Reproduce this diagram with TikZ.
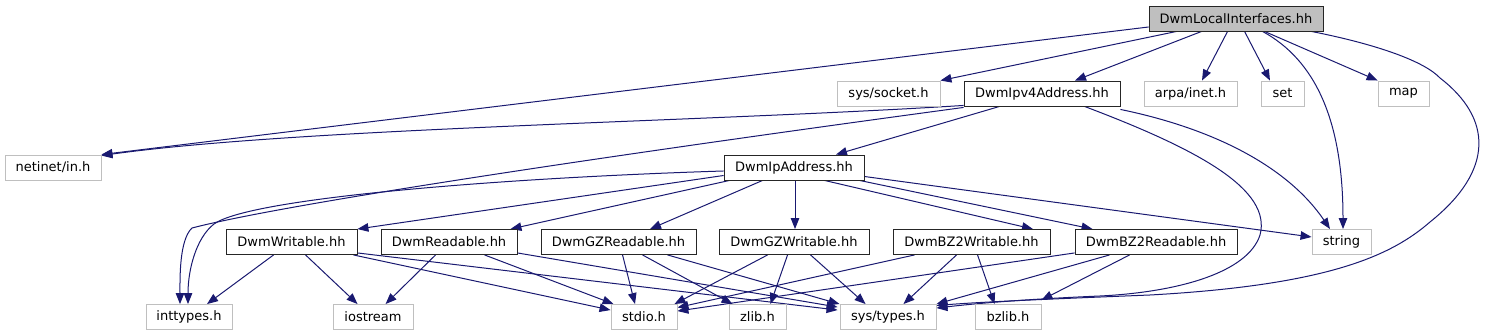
\documentclass[tikz,border=0pt]{standalone}
\usepackage{fontspec}
\setmainfont{DejaVu Sans}
\usetikzlibrary{arrows.meta,calc,backgrounds}
\definecolor{edgeblue}{HTML}{191970}
\definecolor{extgray}{HTML}{BFBFBF}
\tikzset{
  hbox/.style={draw=black!85, line width=0.9pt, fill=white, rectangle, inner sep=0pt, minimum height=25pt, font=\fontsize{13}{15}\selectfont},
  extbox/.style={draw=extgray, line width=0.9pt, fill=white, rectangle, inner sep=0pt, minimum height=25pt, font=\fontsize{13}{15}\selectfont},
  rootbox/.style={hbox, fill=extgray},
  dep/.style={draw=edgeblue, line width=1pt, -{Triangle[length=11pt,width=8.5pt,fill=edgeblue]}}
}
\begin{document}
\begin{tikzpicture}[x=1pt,y=-1pt]
\useasboundingbox (0,0) rectangle (1489,336);
% nodes
\node[rootbox, minimum width=174pt] (LI) at (1236,18.5) {DwmLocalInterfaces.hh};
\node[extbox, minimum width=103pt] (socket) at (888.5,93.5) {sys/socket.h};
\node[hbox, minimum width=156pt] (Ipv4) at (1042,93.5) {DwmIpv4Address.hh};
\node[extbox, minimum width=93pt] (arpa) at (1190.5,93.5) {arpa/inet.h};
\node[extbox, minimum width=43pt] (set) at (1282.5,93.5) {set};
\node[extbox, minimum width=51pt] (map) at (1403.5,93.5) {map};
\node[extbox, minimum width=96pt] (netinet) at (53,167.5) {netinet/in.h};
\node[hbox, minimum width=140pt] (IpA) at (794,167.5) {DwmIpAddress.hh};
\node[hbox, minimum width=131pt] (Wr) at (291.5,242) {DwmWritable.hh};
\node[hbox, minimum width=136pt] (Rd) at (449,242) {DwmReadable.hh};
\node[hbox, minimum width=155pt] (GZR) at (618.5,242) {DwmGZReadable.hh};
\node[hbox, minimum width=150pt] (GZW) at (794,242) {DwmGZWritable.hh};
\node[hbox, minimum width=157pt] (BZW) at (971.5,242) {DwmBZ2Writable.hh};
\node[hbox, minimum width=162pt] (BZR) at (1156,242) {DwmBZ2Readable.hh};
\node[extbox, minimum width=59pt] (string) at (1341.5,242) {string};
\node[extbox, minimum width=86pt] (inttypes) at (189,317) {inttypes.h};
\node[extbox, minimum width=80pt] (iostream) at (373,317) {iostream};
\node[extbox, minimum width=66pt] (stdio) at (644,317) {stdio.h};
\node[extbox, minimum width=57pt] (zlib) at (757.5,317) {zlib.h};
\node[extbox, minimum width=96pt] (systypes) at (888,317) {sys/types.h};
\node[extbox, minimum width=66pt] (bzlib) at (1008,317) {bzlib.h};
\begin{scope}[on background layer]
% edges from DwmLocalInterfaces.hh
\draw[dep] ($(LI.west)+(0,8.5)$) -- (netinet.north east);
\draw[dep] ($(LI.south west)+(28,0)$) -- (socket.north east);
\draw[dep] ($(LI.south west)+(53,0)$) -- ($(Ipv4.north)+(33,0)$);
\draw[dep] ($(LI.south west)+(79,0)$) -- ($(arpa.north)+(11.5,0)$);
\draw[dep] ($(LI.south west)+(96,0)$) -- ($(set.north)+(-12.5,0)$);
\draw[dep] ($(LI.south west)+(114,0)$) .. controls (1315,60) and (1343,120) .. ($(string.north)+(1.5,0)$);
\draw[dep] ($(LI.south west)+(116,0)$) -- (map.north west);
\draw[dep] ($(LI.south east)+(-12,0)$) .. controls (1380,45) and (1425,62) .. (1440,78)
   .. controls (1492,118) and (1495,170) .. (1430,222)
   .. controls (1392,255) and (1330,285) .. (1150,295)
   .. controls (1050,299) and (980,302) .. ($(systypes.north east)+(0,1.5)$);
% edges from DwmIpv4Address.hh
\draw[dep] ($(Ipv4.south west)+(0,-1)$) .. controls (700,122) and (300,128) .. ($(netinet.north east)+(0,1)$);
\draw[dep] ($(Ipv4.south west)+(0,1)$) .. controls (700,143) and (300,200) .. (192,228)
   .. controls (179,240) and (180,280) .. ($(inttypes.north)+(-9,0)$);
\draw[dep] ($(Ipv4.south west)+(36,0)$) -- ($(IpA.north)+(42,0)$);
\draw[dep] ($(Ipv4.south west)+(121,0)$) .. controls (1200,150) and (1272,190) .. (1260,235)
   .. controls (1248,272) and (1180,292) .. (1100,296)
   .. controls (1030,299) and (980,303) .. ($(systypes.north east)+(0,4)$);
\draw[dep] ($(Ipv4.south east)+(0,3)$) .. controls (1220,130) and (1290,170) .. ($(string.north)+(-11.5,0)$);
% edges from DwmIpAddress.hh
\draw[dep] ($(IpA.west)+(0,3.5)$) .. controls (500,178) and (250,198) .. (214,224)
   .. controls (196,238) and (188,270) .. ($(inttypes.north)+(-1,0)$);
\draw[dep] ($(IpA.west)+(0,8)$) -- (Wr.north east);
\draw[dep] ($(IpA.south west)+(6,0)$) -- ($(Rd.north east)+(-7,0)$);
\draw[dep] ($(IpA.south west)+(39,0)$) -- ($(GZR.north)+(31.5,0)$);
\draw[dep] ($(IpA.south)+(1,0)$) -- ($(GZW.north)+(1,0)$);
\draw[dep] ($(IpA.south west)+(101,0)$) -- ($(BZW.north)+(61.5,0)$);
\draw[dep] ($(IpA.south west)+(136,0)$) -- ($(BZR.north west)+(18,0)$);
\draw[dep] ($(IpA.east)+(0,9)$) -- ($(string.west)+(0,-5)$);
% edges from row 4
\draw[dep] ($(Wr.south west)+(48,0)$) -- ($(inttypes.north)+(18,0)$);
\draw[dep] ($(Wr.south west)+(80,0)$) -- ($(iostream.north west)+(25,0)$);
\draw[dep] ($(Wr.south east)+(-4,0)$) -- ($(stdio.north west)+(0,6)$);
\draw[dep] ($(Wr.south east)+(0,-2)$) -- ($(systypes.north west)+(-2,6)$);
\draw[dep] ($(Rd.south west)+(55,0)$) -- ($(iostream.north west)+(53,0)$);
\draw[dep] ($(Rd.south west)+(104,0)$) -- ($(stdio.north west)+(3,0)$);
\draw[dep] ($(Rd.south east)+(0,-2)$) -- ($(systypes.north west)+(-2,3)$);
\draw[dep] ($(GZR.south west)+(82,0)$) -- ($(stdio.north)+(-9,0)$);
\draw[dep] ($(GZR.south west)+(102,0)$) -- ($(zlib.north west)+(4,0)$);
\draw[dep] ($(GZR.south west)+(127,0)$) -- (systypes.north west);
\draw[dep] ($(GZW.south west)+(49,0)$) -- ($(stdio.north east)+(-3,0)$);
\draw[dep] ($(GZW.south west)+(69,0)$) -- ($(zlib.north east)+(-16,0)$);
\draw[dep] ($(GZW.south west)+(92,0)$) -- ($(systypes.north west)+(26,0)$);
\draw[dep] ($(BZW.south west)+(22,0)$) -- ($(stdio.north east)+(0,3.5)$);
\draw[dep] ($(BZW.south west)+(64,0)$) -- ($(systypes.north east)+(-33,0)$);
\draw[dep] ($(BZW.south west)+(85,0)$) -- ($(bzlib.north west)+(20,0)$);
\draw[dep] ($(BZR.south west)+(0,-2)$) -- ($(stdio.north east)+(0,7)$);
\draw[dep] ($(BZR.south west)+(35,0)$) -- (systypes.north east);
\draw[dep] ($(BZR.south west)+(55,0)$) -- ($(bzlib.north east)+(0,-4)$);
\end{scope}
\end{tikzpicture}
\end{document}
